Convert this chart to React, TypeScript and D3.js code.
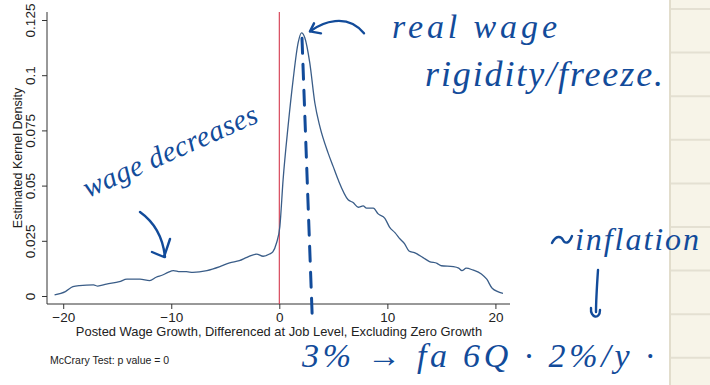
import React, { useEffect, useRef } from 'react';
import * as d3 from 'd3';

// kernel density estimate
const growth = [
  -20.8, -19.8, -19.1, -18.5, -17.2, -16.8, -16.0, -14.8, -14.1, -12.9, -12.0, -11.4, -10.8, -10.3,
  -9.8, -9.2, -8.6, -8.0, -6.7, -5.5, -4.6, -3.7, -3.0, -2.1, -1.5, -0.9, -0.6, -0.26, 0.05, 0.35,
  0.81, 1.28, 1.74, 2.05, 2.36, 2.82, 3.29, 3.75, 4.52, 4.98, 5.45, 6.37, 6.83, 7.3, 7.76, 8.07,
  8.7, 9.15, 9.77, 10.2, 10.7, 11.2, 11.6, 12.0, 12.5, 13.3, 13.9, 14.6, 15.0, 16.1, 16.6, 16.9,
  17.3, 17.9, 18.7, 19.2, 19.7, 20.7,
];
const density = [
  0.0005, 0.002, 0.0042, 0.0047, 0.005, 0.0045, 0.0054, 0.0065, 0.0076, 0.0076, 0.007, 0.0085,
  0.0095, 0.0107, 0.0115, 0.011, 0.011, 0.0107, 0.0115, 0.0133, 0.015, 0.016, 0.0175, 0.019, 0.018,
  0.019, 0.02, 0.024, 0.0314, 0.0526, 0.0768, 0.098, 0.1146, 0.1192, 0.117, 0.1056, 0.0874, 0.0768,
  0.0647, 0.0587, 0.0526, 0.0436, 0.0423, 0.0402, 0.0408, 0.0398, 0.0398, 0.0372, 0.0352, 0.0312,
  0.0287, 0.0257, 0.0236, 0.0204, 0.0196, 0.0174, 0.0156, 0.0148, 0.0137, 0.0133, 0.0126, 0.0115,
  0.0126, 0.0118, 0.01, 0.0076, 0.0035, 0.0012,
];
const xTicks = [-20, -10, 0, 10, 20];
const yTicks = [0, 0.025, 0.05, 0.075, 0.1, 0.125];
const yTickLabels = ['0', '0.025', '0.05', '0.075', '0.1', '0.125'];

const W = 710;
const H = 385;
const INK = '#124b9a';
const HAND = "'Liberation Serif', serif";

const App = () => {
  const svgRef = useRef<SVGSVGElement>(null);

  useEffect(() => {
    const svg = d3.select(svgRef.current);
    svg.selectAll('*').remove();

    const left = 47, right = 510, top = 12, bottom = 304;
    const x = d3.scaleLinear().domain([-21.5, 21.35]).range([left, right]);
    const y = d3.scaleLinear().domain([0, 0.125]).range([296, 20]);

    svg.append('rect').attr('width', W).attr('height', H).attr('fill', '#fff');

    // notebook paper strip on the right
    svg.append('rect').attr('x', 669).attr('y', 0).attr('width', W - 669).attr('height', H).attr('fill', '#f7f4e8');
    svg.append('line').attr('x1', 670).attr('x2', 670).attr('y1', 0).attr('y2', H)
      .attr('stroke', '#e2ddcc').attr('stroke-width', 2);
    svg.selectAll('.rule').data(d3.range(9)).enter().append('line')
      .attr('x1', 671).attr('x2', W)
      .attr('y1', d => 9 + d * 43.6).attr('y2', d => 9 + d * 43.6)
      .attr('stroke', '#e4e0d2').attr('stroke-width', 2);

    const font = "'Liberation Sans', Arial, sans-serif";

    // axes
    const gx = svg.append('g').attr('transform', `translate(0,${bottom})`)
      .call(d3.axisBottom(x).tickValues(xTicks).tickSize(5).tickSizeOuter(0).tickFormat(d3.format('d')));
    gx.select('.domain').remove();
    gx.selectAll('line').attr('stroke', '#333');
    gx.selectAll('text').attr('fill', '#222').style('font-family', font).style('font-size', '13.5px');
    svg.append('line').attr('x1', left).attr('x2', right).attr('y1', bottom).attr('y2', bottom)
      .attr('stroke', '#333');

    const gy = svg.append('g').attr('transform', `translate(${left},0)`)
      .call(d3.axisLeft(y).tickValues(yTicks).tickSize(5).tickSizeOuter(0)
        .tickFormat((d, i) => yTickLabels[i]));
    gy.select('.domain').remove();
    gy.selectAll('line').attr('stroke', '#333');
    gy.selectAll('text')
      .attr('fill', '#222')
      .attr('transform', 'rotate(-90)')
      .attr('x', 0).attr('y', -12).attr('dy', 0)
      .attr('text-anchor', 'middle')
      .style('font-family', font).style('font-size', '13.5px');
    svg.append('line').attr('x1', left).attr('x2', left).attr('y1', top).attr('y2', bottom)
      .attr('stroke', '#333');

    svg.append('text')
      .attr('transform', `translate(21.5,${(top + bottom) / 2}) rotate(-90)`)
      .attr('text-anchor', 'middle').attr('fill', '#222')
      .style('font-family', font).style('font-size', '12.5px')
      .text('Estimated Kernel Density');

    svg.append('text')
      .attr('x', (left + right) / 2 + 0.5).attr('y', 336)
      .attr('text-anchor', 'middle').attr('fill', '#222')
      .style('font-family', font).style('font-size', '12.9px')
      .text('Posted Wage Growth, Differenced at Job Level, Excluding Zero Growth');

    svg.append('text')
      .attr('x', 50).attr('y', 364).attr('fill', '#222')
      .style('font-family', font).style('font-size', '10.5px')
      .text('McCrary Test: p value = 0');

    // zero line
    svg.append('line').attr('x1', x(0)).attr('x2', x(0)).attr('y1', top).attr('y2', bottom)
      .attr('stroke', '#d4384d').attr('stroke-width', 1.1);

    // density curve
    const pts = growth.map((g, i) => [g, density[i]] as [number, number]);
    svg.append('path')
      .attr('d', d3.line<[number, number]>().x(d => x(d[0])).y(d => y(d[1])).curve(d3.curveMonotoneX)(pts))
      .attr('fill', 'none').attr('stroke', '#3a5d88').attr('stroke-width', 1.3);

    // ---- handwritten annotations ----
    const ink = svg.append('g').attr('fill', 'none').attr('stroke', INK)
      .attr('stroke-width', 2.4).attr('stroke-linecap', 'round').attr('stroke-linejoin', 'round');

    // dashed line down from the peak
    const peakX = x(2.1), peakY = y(0.1185);
    ink.append('line')
      .attr('x1', peakX).attr('y1', peakY + 4)
      .attr('x2', x(3.05)).attr('y2', 318)
      .attr('stroke-width', 3).attr('stroke-dasharray', '15 11');

    // arrow to the peak
    ink.append('path').attr('d', `M${peakX + 62},${peakY - 1} C${peakX + 45},${peakY - 22} ${peakX + 20},${peakY - 12} ${peakX + 8},${peakY - 3}`);
    ink.append('path').attr('d', `M${peakX + 12},${peakY - 11} L${peakX + 8},${peakY - 3} L${peakX + 19},${peakY - 1}`);

    // arrow to wage decreases
    ink.append('path').attr('d', 'M140,212 C154,222 163,238 165,257');
    ink.append('path').attr('d', 'M152,252 L164,257 L170,239');

    // tilde before inflation
    ink.append('path').attr('d', 'M552,243 C556,235 561,236 563,240 C565,244 569,244 572,236');

    // arrow from inflation
    ink.append('path').attr('d', 'M598,270 C597,285 596,300 596,312');
    ink.append('path').attr('d', 'M591,308 C590,318 600,320 600,310');

    const hand = svg.append('g').attr('fill', INK)
      .style('font-family', HAND).style('font-style', 'italic');

    hand.append('text').attr('x', 392).attr('y', 38).attr('textLength', 165)
      .attr('lengthAdjust', 'spacing').style('font-size', '34px').text('real wage');
    hand.append('text').attr('x', 425).attr('y', 86).attr('textLength', 238)
      .attr('lengthAdjust', 'spacing').style('font-size', '36px').text('rigidity/freeze.');
    hand.append('text').attr('transform', 'translate(88,198) rotate(-24)').attr('textLength', 188)
      .attr('lengthAdjust', 'spacing').style('font-size', '29px').text('wage decreases');
    hand.append('text').attr('x', 575).attr('y', 250).attr('textLength', 124)
      .attr('lengthAdjust', 'spacing').style('font-size', '32px').text('inflation');
    hand.append('text').attr('x', 302).attr('y', 367).attr('textLength', 352)
      .attr('lengthAdjust', 'spacing').style('font-size', '34px').text('3% → fa 6Q · 2%/y ·');
  }, []);

  return (
    <svg ref={svgRef} width={W} height={H}
      style={{ position: 'absolute', left: 0, top: 0, display: 'block' }} />
  );
};

export default App;
